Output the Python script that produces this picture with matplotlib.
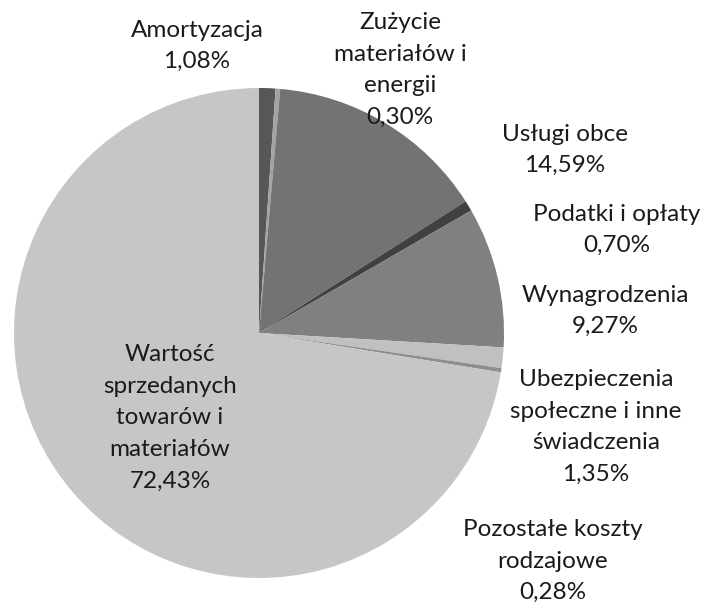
import matplotlib.pyplot as plt

categories = ['Amortyzacja', 'Zużycie\nmateriałów i\nenergii', 'Usługi obce',
              'Podatki i opłaty', 'Wynagrodzenia',
              'Ubezpieczenia\nspołeczne i inne\nświadczenia',
              'Pozostałe koszty\nrodzajowe',
              'Wartość\nsprzedanych\ntowarów i\nmateriałów']
shares = [1.08, 0.30, 14.59, 0.70, 9.27, 1.35, 0.28, 72.43]
colors = ['#575757', '#a3a3a3', '#737373', '#404040', '#808080',
          '#c0c0c0', '#8e8e8e', '#c6c6c6']

# label centres in pixel coordinates (x, y from top)
label_pos = [(197, 46), (400, 70), (565, 150), (617, 230), (605, 311),
             (596, 427), (553, 561), (170, 418)]

plt.rcParams['font.family'] = ['Lato', 'DejaVu Sans']

fig = plt.figure(figsize=(7.06, 6.05), dpi=100)
ax = fig.add_axes([0, 0, 1, 1])
ax.pie(shares, colors=colors, startangle=90, counterclock=False,
       center=(259, 605 - 333), radius=245, frame=True,
       wedgeprops={'linewidth': 0})
ax.set_xlim(0, 706)
ax.set_ylim(0, 605)
ax.set_aspect('equal')
ax.axis('off')

for name, val, (x, y) in zip(categories, shares, label_pos):
    txt = name + '\n' + f'{val:.2f}'.replace('.', ',') + '%'
    ax.text(x, 605 - y, txt, ha='center', va='center', fontsize=17.5,
            color='#1a1a1a', linespacing=1.62)

fig.savefig('out.png', dpi=100)
